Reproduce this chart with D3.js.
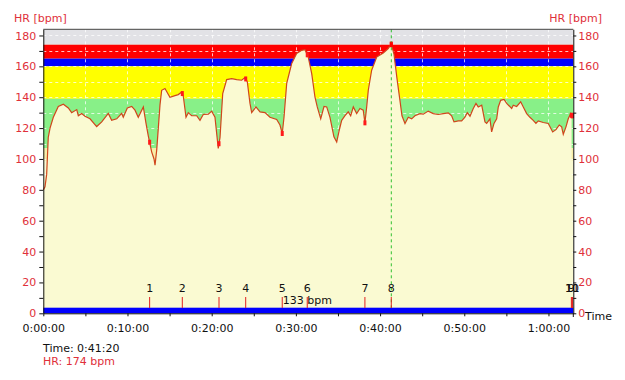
<!DOCTYPE html>
<html><head><meta charset="utf-8">
<script src="https://cdn.jsdelivr.net/npm/d3@7"></script>
<style>
body{margin:0;background:#fff;}
text{font-family:"DejaVu Sans",Verdana,sans-serif;font-size:11px;}
</style>
</head><body>
<svg id="c" width="625" height="380"></svg>
<script>
// ---- data ----
const hrTime = [0.02,0.20,0.40,0.59,0.80,1.19,1.78,2.38,2.97,3.37,3.97,4.16,4.56,4.95,5.55,6.34,6.94,7.72,8.12,8.72,9.31,9.50,9.98,10.50,10.89,11.28,11.88,12.20,12.47,12.87,13.15,13.27,13.47,13.66,13.86,14.06,14.45,15.04,15.64,16.03,16.44,16.63,16.95,17.22,17.62,18.22,18.61,19.00,19.60,20.00,20.39,20.78,20.99,21.31,21.78,22.38,22.97,23.56,23.95,24.23,24.55,24.75,25.26,25.74,26.33,26.92,27.72,28.11,28.38,28.59,28.91,29.50,30.09,30.69,31.08,31.47,31.88,32.27,32.54,32.95,33.34,33.66,34.05,34.52,34.85,35.15,35.44,35.83,36.22,36.51,36.82,37.22,37.61,38.00,38.20,38.41,38.60,39.00,39.60,40.38,40.97,41.33,41.65,42.01,42.36,42.60,42.96,43.35,43.75,44.14,44.74,45.13,45.72,46.32,46.91,47.51,48.10,48.50,48.78,49.29,49.69,50.08,50.36,50.68,51.07,51.39,51.66,52.07,52.46,52.66,53.05,53.25,53.53,53.85,54.04,54.32,54.72,55.04,55.63,55.82,56.22,56.70,57.01,57.41,57.80,58.19,58.51,58.79,59.38,59.98,60.50,60.89,61.28,61.57,61.76,62.08,62.35,62.63,62.75];
const hrValue = [80,82,90,114,120,127,134,135.5,133,130,132,128,129.5,127.7,126,121,124,129.5,125,126,129.5,127,133,134,131.6,127,133.7,123,115,104.6,100,96,105.7,120,135,144.5,145.6,140,141,141.7,143.4,140.6,127,130,128,128,125,128.8,129,131,127,106.8,114,142.4,151.4,152,151.4,151,152.7,150,136,130,133.7,130.5,130,127,125.6,122,116.5,127,149,161.8,168.3,170.4,170.8,166,155.3,140,133.7,126,134,133.7,127,114.3,111,118.6,125,128,130.5,128,133.7,129.4,132.7,131.6,123.4,133.7,144.5,157.5,166,168.7,171.5,174.5,168,152,138,128,123,127,126,128,129.4,129,131,129.4,128.8,129.4,129.9,128,124,124.7,124.7,127,130,127.7,132.7,136,133.7,134.8,124,123,126,117.5,123,126,133.7,138,138.5,136,132.7,134.8,134,137,133.7,129.4,127,125,123,124.7,123.6,123,117.5,119,122,120.8,116,120.8,126,129.4,128];
const lapTimes = [12.63,16.51,20.87,24.04,28.38,31.35,38.20,41.33,62.72,62.79,62.86];
const lapLabels = ["1","2","3","4","5","6","7","8","9","10","11"];
const zoneLow  = [174,165,160,139,107,99];
const zoneHigh = [184,174,165,160,139,107];
const zoneColors = ["#e2e2e6","#ff0000","#0000ff","#ffff00","#88f088","#f8eea8"];
const yTickValues = [0,10,20,30,40,50,60,70,80,90,100,110,120,130,140,150,160,170,180];
const xTickValues = [0,5,10,15,20,25,30,35,40,45,50,55,60];
const avgLabel = "133 bpm";
const cursorTime = 41.333, cursorHR = 174;
const totalTime = 62.95, yMax = 184;

// ---- scales ----
const svg = d3.select("#c");
const x = d3.scaleLinear().domain([0,totalTime]).range([43.3,573.3]);
const y = d3.scaleLinear().domain([0,yMax]).range([313.3,29.3]);
const pts = hrTime.map((t,i)=>({t, v:hrValue[i]}));
const red = "#e0303a";

// background
svg.append("rect").attr("x",x(0)).attr("y",y(yMax)).attr("width",x(totalTime)-x(0)).attr("height",y(0)-y(yMax)).attr("fill","#fafad2");
// zones
svg.selectAll("rect.zone").data(zoneLow).enter().append("rect").attr("class","zone")
  .attr("x",x(0)).attr("width",x(totalTime)-x(0))
  .attr("y",(d,i)=>y(zoneHigh[i])).attr("height",(d,i)=>y(d)-y(zoneHigh[i]))
  .attr("fill",(d,i)=>zoneColors[i]);
// grid
const g = svg.append("g").attr("stroke","#ffffff").attr("stroke-opacity",0.75).attr("stroke-dasharray","3,3").attr("stroke-width",1);
xTickValues.filter(d=>d>0).forEach(d=>g.append("line").attr("x1",Math.round(x(d))+0.5).attr("x2",Math.round(x(d))+0.5).attr("y1",y(yMax)).attr("y2",y(0)));
yTickValues.filter(d=>d>0).forEach(d=>g.append("line").attr("x1",x(0)).attr("x2",x(totalTime)).attr("y1",Math.round(y(d))+0.5).attr("y2",Math.round(y(d))+0.5));

// area + line
svg.append("path").datum(pts).attr("fill","#fafad2")
  .attr("d",d3.area().x(d=>x(d.t)).y0(y(0)).y1(d=>y(d.v)));
svg.append("path").datum(pts).attr("fill","none").attr("stroke","#d0461c").attr("stroke-width",1.2)
  .attr("d",d3.line().x(d=>x(d.t)).y(d=>y(d.v)));

// lap marks on curve
const interp = t=>{ const i = d3.bisector(d=>d.t).left(pts,t); if(i<=0) return pts[0].v; if(i>=pts.length) return pts[pts.length-1].v;
  const a=pts[i-1], b=pts[i]; return a.v+(b.v-a.v)*(t-a.t)/(b.t-a.t); };
svg.selectAll("rect.lapm").data(lapTimes).enter().append("rect").attr("class","lapm")
  .attr("x",d=>x(d)-1.5).attr("y",d=>y(interp(d))-2.5).attr("width",3).attr("height",5).attr("fill","#ff1a1a");

// bottom blue bar
svg.append("rect").attr("x",x(0)).attr("y",307.7).attr("width",x(totalTime)-x(0)).attr("height",y(0)-307.7).attr("fill","#0000ff");

// cursor
svg.append("line").attr("x1",x(cursorTime)).attr("x2",x(cursorTime)).attr("y1",y(yMax)).attr("y2",308)
  .attr("stroke","#30c030").attr("stroke-dasharray","3,3").attr("stroke-width",1);
svg.append("rect").attr("x",x(cursorTime)-1.5).attr("y",y(cursorHR)-2.5).attr("width",3).attr("height",5).attr("fill","#ff0000");

// lap markers
svg.selectAll("line.lap").data(lapTimes).enter().append("line").attr("class","lap")
  .attr("x1",d=>x(d)).attr("x2",d=>x(d)).attr("y1",297).attr("y2",308).attr("stroke","#e02020").attr("stroke-width",1);
svg.selectAll("text.lap").data(lapTimes).enter().append("text").attr("class","lap")
  .attr("x",d=>x(d)).attr("y",292).attr("text-anchor","middle").attr("fill","#111").text((d,i)=>lapLabels[i]);
svg.append("text").attr("x",x(lapTimes[4])+0.5).attr("y",304).attr("fill","#111").text(avgLabel);

// frame top
svg.append("line").attr("x1",x(0)).attr("x2",x(totalTime)).attr("y1",y(yMax)).attr("y2",y(yMax)).attr("stroke","#444");

// axes
const fmt = m=>{ const s=Math.round(m*60); const h=Math.floor(s/3600), mm=Math.floor((s%3600)/60), ss=s%60; return h+":"+String(mm).padStart(2,"0")+":"+String(ss).padStart(2,"0"); };
const yl = svg.append("g").attr("transform",`translate(${x(0)},0)`)
  .call(d3.axisLeft(y).tickValues(yTickValues).tickFormat(d=>d%20===0?d:"").tickSize(4).tickSizeOuter(0).tickPadding(3));
const yr = svg.append("g").attr("transform",`translate(${x(totalTime)},0)`)
  .call(d3.axisRight(y).tickValues(yTickValues).tickFormat(d=>d%20===0?d:"").tickSize(3).tickSizeOuter(0).tickPadding(2));
const xa = svg.append("g").attr("transform",`translate(0,${y(0)})`)
  .call(d3.axisBottom(x).tickValues(xTickValues).tickFormat(d=>d%10===0?fmt(d):"").tickSize(3).tickSizeOuter(0).tickPadding(8));
[yl,yr,xa].forEach(a=>{a.selectAll("text").style("font-family",'"DejaVu Sans",Verdana,sans-serif').style("font-size","11px");
  a.select(".domain").attr("stroke","#111"); a.selectAll(".tick line").attr("stroke","#111");});
yl.selectAll("text").attr("fill",red); yr.selectAll("text").attr("fill",red); xa.selectAll("text").attr("fill","#111");
svg.append("line").attr("x1",x(totalTime)).attr("x2",x(totalTime)).attr("y1",y(0)).attr("y2",317).attr("stroke","#111");

// titles
svg.append("text").attr("x",14).attr("y",22).attr("fill",red).text("HR [bpm]");
svg.append("text").attr("x",602).attr("y",22).attr("text-anchor","end").attr("fill",red).text("HR [bpm]");
svg.append("text").attr("x",585).attr("y",320).attr("fill","#111").text("Time");
svg.append("text").attr("x",43).attr("y",352).attr("fill","#111").text("Time: " + fmt(cursorTime));
svg.append("text").attr("x",43).attr("y",365).attr("fill",red).text("HR: " + cursorHR + " bpm");
</script>
</body></html>
